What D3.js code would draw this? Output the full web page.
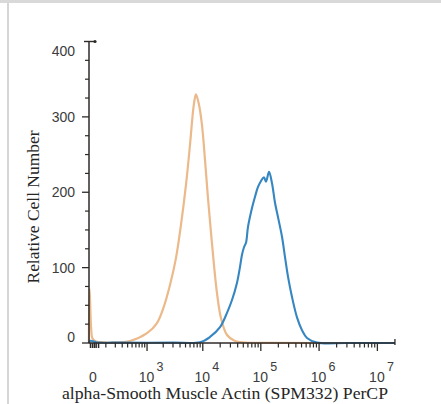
<!DOCTYPE html>
<html><head><meta charset="utf-8">
<script src="https://cdn.jsdelivr.net/npm/d3@7"></script>
<style>html,body{margin:0;padding:0;background:#fff;overflow:hidden}</style>
</head><body>
<script>
// ---- data ----
const yTicksMajor = [0, 100, 200, 300, 400];
const yTicksMinor = [25, 50, 75, 125, 150, 175, 225, 250, 275, 325, 350, 375];
const xDecades = [3, 4, 5, 6, 7];
const xLabelZero = "0";
const xTitle = "alpha-Smooth Muscle Actin (SPM332) PerCP";
const yTitle = "Relative Cell Number";

// isotype control (orange)
const isoIntensity = [-8, -5, -2, 3, 10, 30, 80, 172, 451, 998, 1538, 1983, 2652, 3395, 4161, 5095, 5987, 6756, 7176, 7620, 8594, 9689, 10925, 12312, 13884, 15640, 17620, 20650, 26210, 36000, 53500, 150000, 1e6, 2e7];
const isoCount     = [0, 72, 55, 20, 6, 2, 1, 0.7, 2.7, 13, 26.5, 45, 77, 113, 157, 210, 263, 307, 322, 330, 316, 289, 243, 192, 146, 103, 66, 33, 10.6, 2.7, 0.7, 0.2, 0, 0];

// alpha-SMA (blue)
const smaIntensity = [-8, 0, 30, 300, 3000, 8945, 13340, 19860, 26210, 31970, 38980, 43880, 47500, 51420, 55640, 60230, 70570, 79450, 89470, 100740, 113420, 122740, 138200, 155600, 175200, 197230, 231000, 260200, 292800, 343100, 417900, 509200, 620500, 921100, 3e6, 2e7];
const smaCount     = [0, 3, 1, 0.5, 0.5, 1, 8, 21, 40, 57, 80, 101, 117, 127, 133, 154, 179, 194, 207, 215, 220, 214, 227, 212, 186, 167, 141, 114, 88, 61, 34, 17, 6.6, 0.5, 0, 0];

// ---- drawing ----
const W = 441, H = 404;
const svg = d3.select("body").append("svg").attr("width", W).attr("height", H);

// frame of the screenshot
svg.append("rect").attr("x", 0).attr("y", 0).attr("width", W).attr("height", 3).attr("fill", "#d9d9d9");
svg.append("rect").attr("x", 7).attr("y", 3).attr("width", 2).attr("height", H - 3).attr("fill", "#d6d6d6");

const C = 120, X0 = 90.5, S = 58.3;
const x = d3.scaleSymlog().constant(C).domain([0, 1e7]).range([X0, X0 + S * Math.log10(1 + 1e7 / C)]);
const y = d3.scaleLinear().domain([0, 400]).range([343, 41.5]);

const axisColor = "#2e2a28";
const x0 = x(-8), x1 = x(2e7), yb = y(0);

const line = d3.line().x(d => x(d[0])).y(d => y(d[1])).curve(d3.curveCatmullRom.alpha(0.5));

const iso = isoIntensity.map((v, i) => [v, isoCount[i]]);
const sma = smaIntensity.map((v, i) => [v, smaCount[i]]);

svg.append("path").datum(iso).attr("d", line).attr("fill", "none")
  .attr("stroke", "#ebb98a").attr("stroke-width", 2.2).attr("stroke-linejoin", "round");
svg.append("path").datum(sma).attr("d", line).attr("fill", "none")
  .attr("stroke", "#3586c1").attr("stroke-width", 2.1).attr("stroke-linejoin", "round");

// y axis
const gy = svg.append("g");
gy.append("line").attr("x1", 89).attr("x2", 89).attr("y1", y(400)).attr("y2", yb)
  .attr("stroke", axisColor).attr("stroke-width", 1.5);
gy.selectAll("line.maj").data(yTicksMajor.filter(v => v < 400)).join("line").attr("class", "maj")
  .attr("x1", 82).attr("x2", 89).attr("y1", d => y(d)).attr("y2", d => y(d))
  .attr("stroke", axisColor).attr("stroke-width", 1.3);
gy.selectAll("line.min").data(yTicksMinor).join("line").attr("class", "min")
  .attr("x1", 85).attr("x2", 89).attr("y1", d => y(d)).attr("y2", d => y(d))
  .attr("stroke", axisColor).attr("stroke-width", 1.2);
// top cap
gy.append("line").attr("x1", 84).attr("x2", 95).attr("y1", y(400)).attr("y2", y(400))
  .attr("stroke", axisColor).attr("stroke-width", 1.4);
gy.append("circle").attr("cx", 95).attr("cy", y(400)).attr("r", 1.6).attr("fill", axisColor);

gy.selectAll("text").data(yTicksMajor).join("text")
  .attr("x", 75).attr("y", d => y(d))
  .attr("dy", d => d === 0 ? "-0.05em" : d === 400 ? "1em" : "0.36em")
  .attr("text-anchor", "end")
  .attr("font-family", "Liberation Sans, Arial, sans-serif").attr("font-size", 14)
  .attr("fill", "#3c3c3c").text(d => d);

// x axis
const gx = svg.append("g");
gx.append("line").attr("x1", x0).attr("x2", x1).attr("y1", yb).attr("y2", yb)
  .attr("stroke", axisColor).attr("stroke-width", 1.5);
gx.append("line").attr("x1", x1).attr("x2", x1).attr("y1", yb - 4).attr("y2", yb + 2)
  .attr("stroke", axisColor).attr("stroke-width", 1.3);

const majorVals = xDecades.map(k => Math.pow(10, k));
const minorVals = [];
for (let k = 2; k <= 6; k++) for (let m = (k === 2 ? 1 : 2); m <= 9; m++) minorVals.push(m * Math.pow(10, k));
const nearZero = [0, 10, 20, 30, 45];

gx.selectAll("line.maj").data(majorVals).join("line").attr("class", "maj")
  .attr("x1", d => x(d)).attr("x2", d => x(d)).attr("y1", yb).attr("y2", yb + 8)
  .attr("stroke", axisColor).attr("stroke-width", 1.3);
gx.selectAll("line.min").data(minorVals).join("line").attr("class", "min")
  .attr("x1", d => x(d)).attr("x2", d => x(d)).attr("y1", yb).attr("y2", yb + 4.5)
  .attr("stroke", axisColor).attr("stroke-width", 1.2);
gx.selectAll("line.z").data(nearZero).join("line").attr("class", "z")
  .attr("x1", d => x(d)).attr("x2", d => x(d)).attr("y1", yb).attr("y2", yb + 5)
  .attr("stroke", axisColor).attr("stroke-width", 1.5);

const tickFont = "Liberation Sans, Arial, sans-serif";
gx.append("text").attr("x", x(0) + 2.5).attr("y", 382).attr("text-anchor", "middle")
  .attr("font-family", tickFont).attr("font-size", 14).attr("fill", "#3c3c3c").text(xLabelZero);
const lab = gx.selectAll("g.lab").data(xDecades).join("g").attr("class", "lab")
  .attr("transform", d => `translate(${x(Math.pow(10, d))},0)`);
lab.append("text").attr("x", -0.5).attr("y", 382).attr("text-anchor", "middle")
  .attr("font-family", tickFont).attr("font-size", 14).attr("fill", "#3c3c3c").text("10");
lab.append("text").attr("x", 9.5).attr("y", 371).attr("text-anchor", "start")
  .attr("font-family", tickFont).attr("font-size", 12.5).attr("fill", "#3c3c3c").text(d => d);

// titles
svg.append("text").attr("x", 225).attr("y", 399).attr("text-anchor", "middle")
  .attr("font-family", "Liberation Serif, Times New Roman, serif").attr("font-size", 17)
  .attr("fill", "#262626").attr("textLength", 326).attr("lengthAdjust", "spacingAndGlyphs").text(xTitle);
svg.append("text").attr("transform", "translate(39,207) rotate(-90)").attr("text-anchor", "middle")
  .attr("font-family", "Liberation Serif, Times New Roman, serif").attr("font-size", 17)
  .attr("fill", "#262626").attr("textLength", 153).attr("lengthAdjust", "spacingAndGlyphs").text(yTitle);
</script>
</body></html>
